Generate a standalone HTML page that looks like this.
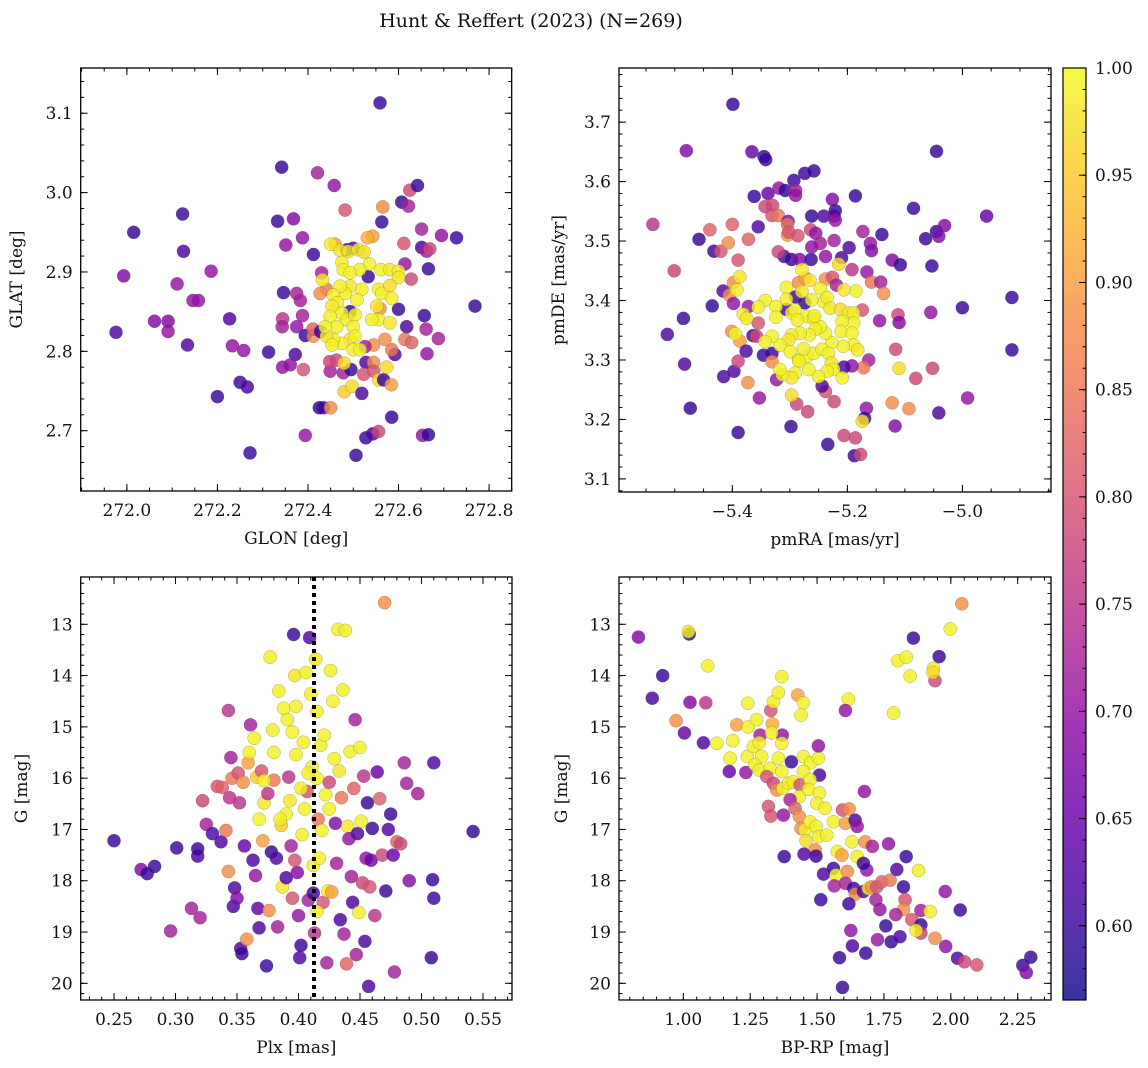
<!DOCTYPE html>
<html><head><meta charset="utf-8"><style>
html,body{margin:0;padding:0;background:#fff;}
svg{display:block;font-family:"DejaVu Serif","Liberation Serif",serif;}
</style></head><body>
<svg id="fig" width="1148" height="1068" viewBox="0 0 1148 1068" xmlns="http://www.w3.org/2000/svg">
<text x="531" y="27" font-size="19" text-anchor="middle" fill="#111">Hunt &amp; Reffert (2023) (N=269)</text>
</svg>
<script>
// ---- data: [x, y, membership probability] ----
const glonGlatStars = [
[271.976,2.824,.62],[271.993,2.895,.68],[272.015,2.950,.6],[272.061,2.838,.68],[272.091,2.838,.68],[272.091,2.825,.7],
[272.123,2.973,.6],[272.125,2.926,.62],[272.111,2.885,.7],[272.134,2.808,.62],[272.146,2.864,.7],[272.158,2.864,.7],
[272.186,2.901,.7],[272.200,2.743,.6],[272.227,2.841,.62],[272.233,2.807,.7],[272.258,2.801,.7],[272.250,2.761,.6],
[272.266,2.755,.62],[272.272,2.672,.6],[272.313,2.799,.6],[272.342,3.032,.6],[272.333,2.964,.6],[272.351,2.934,.7],
[272.368,2.967,.68],[272.346,2.874,.6],[272.344,2.841,.75],[272.343,2.831,.72],[272.375,2.873,.72],[272.375,2.831,.7],
[272.383,2.864,.72],[272.388,2.845,.72],[272.372,2.796,.62],[272.361,2.783,.7],[272.344,2.780,.7],[272.390,2.777,.8],
[272.388,2.943,.7],[272.394,2.694,.7],[272.394,2.820,.6],[272.412,2.922,.6],[272.421,3.025,.72],[272.412,2.819,.88],
[272.430,2.899,.72],[272.458,3.009,.7],[272.482,2.978,.8],[272.434,2.729,.62],[272.425,2.729,.6],[272.450,2.729,.88],
[272.449,2.775,.72],[272.448,2.787,.78],[272.463,2.789,.78],[272.478,2.773,.72],[272.495,2.777,.6],[272.480,2.749,.95],
[272.497,2.756,.97],[272.519,2.747,.62],[272.506,2.669,.6],[272.528,2.691,.6],[272.543,2.696,.62],[272.556,2.699,.78],
[272.559,3.113,.6],[272.563,2.963,.6],[272.565,2.982,.88],[272.585,2.717,.6],[272.607,2.988,.6],[272.622,2.983,.72],
[272.625,3.003,.78],[272.642,3.009,.6],[272.612,2.936,.8],[272.614,2.910,.7],[272.628,2.891,.78],[272.651,2.954,.72],
[272.651,2.931,.62],[272.662,2.926,.72],[272.669,2.929,.78],[272.666,2.904,.6],[272.695,2.946,.7],[272.728,2.943,.6],
[272.769,2.857,.6],[272.600,2.853,.6],[272.657,2.845,.6],[272.661,2.828,.72],[272.688,2.816,.72],[272.663,2.797,.7],
[272.618,2.831,.62],[272.614,2.815,.85],[272.629,2.811,.82],[272.592,2.796,.62],[272.585,2.802,.85],[272.570,2.815,.88],
[272.545,2.808,.88],[272.526,2.806,.72],[272.528,2.786,.62],[272.545,2.786,.88],[272.523,2.771,.8],[272.545,2.775,.8],
[272.556,2.764,.97],[272.567,2.764,.6],[272.584,2.758,.9],[272.574,2.780,.97],[272.653,2.694,.7],[272.666,2.695,.6],
[272.411,2.828,.82],[272.428,2.825,.6],[272.486,2.928,.6],[272.500,2.930,.62],[272.533,2.894,.6],[272.493,2.850,.6],
[272.543,2.945,.9],[272.531,2.943,.92],[272.460,2.935,.9],[272.559,2.854,.88],[272.441,2.878,.85],[272.427,2.873,.88],
[272.432,2.890,.98],[272.450,2.935,.99],[272.471,2.927,.98],[272.475,2.912,.99],[272.478,2.903,.99],[272.489,2.926,.98],
[272.511,2.928,.99],[272.524,2.925,.97],[272.536,2.910,.99],[272.561,2.903,.99],[272.581,2.903,.98],[272.600,2.901,.99],
[272.600,2.893,.98],[272.556,2.878,.99],[272.563,2.873,.99],[272.581,2.883,.97],[272.585,2.867,.99],[272.552,2.857,.98],
[272.556,2.840,.99],[272.581,2.836,.98],[272.541,2.840,.99],[272.519,2.878,.99],[272.508,2.865,.99],[272.493,2.882,.98],
[272.482,2.873,.99],[272.471,2.882,.99],[272.456,2.871,.99],[272.465,2.861,.99],[272.475,2.848,.99],[272.453,2.857,.98],
[272.449,2.844,.99],[272.464,2.831,.99],[272.486,2.840,.99],[272.504,2.846,.99],[272.500,2.831,.99],[272.493,2.815,.98],
[272.500,2.802,.99],[272.504,2.819,.99],[272.475,2.810,.99],[272.456,2.815,.99],[272.441,2.819,.98],[272.438,2.831,.99],
[272.453,2.808,.99],[272.514,2.903,.99],[272.493,2.899,.99],[272.480,2.785,.97],[272.515,2.802,.99]
];
const pmStars = [
[-5.399,3.730,.6],[-5.480,3.652,.68],[-5.538,3.528,.75],[-5.501,3.450,.78],[-5.458,3.503,.6],[-5.439,3.519,.82],
[-5.432,3.483,.6],[-5.420,3.483,.8],[-5.407,3.497,.88],[-5.400,3.528,.82],[-5.390,3.468,.8],[-5.372,3.503,.82],
[-5.366,3.650,.65],[-5.362,3.575,.6],[-5.355,3.524,.62],[-5.345,3.642,.6],[-5.342,3.637,.6],[-5.338,3.580,.65],
[-5.343,3.558,.78],[-5.330,3.560,.78],[-5.331,3.543,.8],[-5.320,3.543,.85],[-5.319,3.589,.7],[-5.308,3.585,.6],
[-5.303,3.533,.68],[-5.304,3.528,.85],[-5.304,3.510,.9],[-5.293,3.602,.6],[-5.290,3.585,.72],[-5.290,3.577,.7],
[-5.286,3.509,.8],[-5.274,3.614,.6],[-5.258,3.618,.6],[-5.262,3.542,.6],[-5.264,3.519,.78],[-5.255,3.513,.7],
[-5.247,3.496,.72],[-5.241,3.542,.62],[-5.226,3.570,.68],[-5.223,3.542,.68],[-5.221,3.551,.6],[-5.221,3.535,.7],
[-5.223,3.501,.72],[-5.186,3.576,.6],[-5.197,3.489,.62],[-5.173,3.516,.72],[-5.160,3.496,.7],[-5.158,3.484,.68],
[-5.140,3.511,.6],[-5.085,3.555,.6],[-5.064,3.504,.6],[-5.045,3.651,.6],[-5.045,3.516,.6],[-5.041,3.508,.68],
[-5.031,3.526,.68],[-4.958,3.542,.65],[-5.122,3.468,.68],[-5.108,3.460,.6],[-5.053,3.458,.6],[-5.192,3.452,.75],
[-5.166,3.448,.7],[-5.158,3.431,.85],[-5.142,3.431,.72],[-5.137,3.412,.88],[-5.174,3.384,.8],[-5.144,3.366,.7],
[-5.112,3.376,.78],[-5.110,3.363,.68],[-5.055,3.380,.7],[-5.000,3.388,.6],[-4.914,3.405,.6],[-4.914,3.317,.6],
[-5.116,3.318,.78],[-5.110,3.286,.97],[-5.081,3.269,.78],[-5.052,3.286,.78],[-4.991,3.236,.7],[-5.041,3.211,.62],
[-5.122,3.228,.88],[-5.093,3.218,.88],[-5.117,3.189,.68],[-5.163,3.300,.72],[-5.172,3.287,.85],[-5.192,3.290,.7],
[-5.206,3.288,.62],[-5.167,3.219,.7],[-5.170,3.202,.6],[-5.174,3.197,.97],[-5.206,3.173,.78],[-5.186,3.169,.78],
[-5.188,3.139,.6],[-5.177,3.141,.78],[-5.234,3.158,.6],[-5.223,3.230,.78],[-5.238,3.247,.8],[-5.244,3.256,.62],
[-5.269,3.213,.78],[-5.288,3.226,.78],[-5.297,3.241,.97],[-5.298,3.188,.6],[-5.323,3.267,.7],[-5.353,3.236,.7],
[-5.373,3.262,.88],[-5.390,3.178,.6],[-5.397,3.281,.62],[-5.390,3.298,.78],[-5.415,3.272,.62],[-5.473,3.219,.6],
[-5.483,3.293,.62],[-5.513,3.343,.62],[-5.485,3.370,.6],[-5.435,3.391,.6],[-5.416,3.416,.62],[-5.405,3.409,.88],
[-5.398,3.395,.7],[-5.372,3.390,.7],[-5.401,3.348,.88],[-5.387,3.332,.9],[-5.376,3.315,.62],[-5.355,3.362,.8],
[-5.364,3.341,.62],[-5.358,3.340,.78],[-5.346,3.308,.6],[-5.331,3.311,.6],[-5.331,3.297,.88],[-5.398,3.430,.88],
[-5.306,3.385,.62],[-5.290,3.406,.6],[-5.274,3.396,.6],[-5.285,3.430,.88],[-5.273,3.438,.9],[-5.238,3.436,.88],
[-5.226,3.439,.8],[-5.219,3.426,.72],[-5.210,3.472,.62],[-5.310,3.474,.62],[-5.297,3.469,.6],[-5.283,3.469,.68],
[-5.263,3.469,.6],[-5.238,3.474,.7],[-5.262,3.490,.7],[-5.320,3.482,.78],[-5.302,3.515,.8],
[-5.395,3.344,.99],[-5.387,3.440,.98],[-5.392,3.418,.99],[-5.279,3.452,.99],[-5.265,3.434,.98],[-5.215,3.461,.97],
[-5.185,3.416,.99],[-5.206,3.418,.98],[-5.247,3.420,.99],[-5.306,3.422,.99],[-5.306,3.402,.99],[-5.279,3.415,.98],
[-5.343,3.400,.99],[-5.355,3.389,.99],[-5.324,3.390,.99],[-5.381,3.377,.99],[-5.375,3.370,.98],[-5.324,3.372,.99],
[-5.297,3.379,.99],[-5.291,3.384,.99],[-5.270,3.373,.99],[-5.259,3.370,.98],[-5.241,3.398,.99],[-5.235,3.405,.99],
[-5.230,3.387,.98],[-5.212,3.385,.97],[-5.198,3.379,.98],[-5.189,3.379,.99],[-5.189,3.362,.99],[-5.209,3.365,.99],
[-5.211,3.348,.99],[-5.192,3.345,.99],[-5.189,3.325,.99],[-5.182,3.317,.98],[-5.207,3.323,.99],[-5.227,3.329,.99],
[-5.238,3.345,.99],[-5.247,3.356,.99],[-5.256,3.352,.99],[-5.266,3.342,.99],[-5.282,3.345,.99],[-5.297,3.342,.99],
[-5.302,3.334,.98],[-5.317,3.325,.99],[-5.331,3.340,.99],[-5.343,3.331,.99],[-5.299,3.314,.99],[-5.285,3.300,.99],
[-5.270,3.306,.99],[-5.259,3.311,.99],[-5.244,3.318,.99],[-5.233,3.311,.99],[-5.228,3.295,.98],[-5.224,3.284,.99],
[-5.209,3.270,.99],[-5.235,3.281,.99],[-5.250,3.272,.99],[-5.267,3.284,.99],[-5.284,3.298,.99],[-5.291,3.278,.99],
[-5.297,3.270,.98],[-5.313,3.275,.99],[-5.317,3.284,.99],[-5.257,3.374,.99],[-5.276,3.319,.99],[-5.287,3.367,.99],
[-5.262,3.401,.99]
];
const plxGStars = [
[0.250,17.22,.6],[0.272,17.78,.68],[0.277,17.86,.6],[0.283,17.72,.6],[0.296,18.98,.72],[0.301,17.36,.6],[0.313,18.54,.72],
[0.318,17.52,.62],[0.318,17.38,.6],[0.320,18.72,.72],[0.322,16.44,.78],[0.325,16.90,.72],[0.330,17.08,.62],[0.334,16.16,.8],
[0.337,17.24,.62],[0.338,16.18,.82],[0.341,17.02,.85],[0.343,14.68,.75],[0.343,17.82,.88],[0.344,16.38,.75],[0.345,15.60,.72],
[0.346,16.00,.85],[0.347,18.50,.62],[0.348,18.14,.62],[0.350,18.34,.68],[0.351,15.90,.8],[0.352,16.48,.75],[0.353,19.32,.62],
[0.354,19.42,.6],[0.355,16.08,.88],[0.356,17.32,.65],[0.358,19.14,.88],[0.359,15.70,.9],[0.361,14.96,.72],[0.363,17.60,.62],
[0.364,15.22,.99],[0.366,15.98,.95],[0.367,18.54,.65],[0.368,18.92,.62],[0.370,15.86,.8],[0.371,17.22,.9],[0.372,16.48,.98],
[0.374,19.66,.6],[0.375,16.30,.75],[0.376,18.58,.88],[0.377,13.64,.99],[0.378,17.44,.6],[0.379,15.06,.99],[0.380,16.04,.85],
[0.382,17.56,.62],[0.383,18.90,.72],[0.384,14.30,.99],[0.386,16.92,.95],[0.387,18.12,.98],[0.388,14.64,.99],[0.390,17.94,.62],
[0.391,14.86,.99],[0.392,15.98,.75],[0.393,16.44,.98],[0.394,17.32,.72],[0.395,18.34,.8],[0.396,13.20,.6],[0.397,14.00,.98],
[0.398,15.54,.99],[0.399,17.84,.68],[0.400,18.68,.7],[0.401,19.50,.62],[0.402,19.26,.6],[0.403,17.10,.99],[0.404,15.30,.99],
[0.405,16.60,.99],[0.406,13.94,.99],[0.407,16.26,.8],[0.408,18.38,.72],[0.409,13.26,.62],[0.410,14.36,.99],[0.411,15.78,.99],
[0.412,17.70,.99],[0.412,18.24,.6],[0.413,19.02,.75],[0.414,13.68,.98],[0.415,14.70,.99],[0.416,16.80,.85],[0.417,17.56,.99],
[0.418,15.36,.99],[0.419,17.02,.99],[0.420,18.42,.8],[0.421,15.16,.99],[0.422,16.32,.99],[0.423,19.60,.72],[0.424,18.20,.99],
[0.425,16.08,.78],[0.426,13.90,.99],[0.427,18.22,.9],[0.428,14.50,.99],[0.429,15.62,.99],[0.430,16.88,.68],[0.431,17.66,.72],
[0.432,13.10,.99],[0.433,15.86,.98],[0.434,18.76,.62],[0.435,16.38,.85],[0.436,14.28,.99],[0.437,19.04,.72],[0.438,13.12,.99],
[0.439,19.62,.82],[0.440,16.94,.98],[0.441,17.18,.7],[0.442,15.48,.99],[0.443,17.92,.72],[0.444,18.42,.62],[0.445,16.20,.82],
[0.446,14.86,.72],[0.447,19.44,.72],[0.448,17.08,.62],[0.449,18.62,.99],[0.450,15.40,.99],[0.451,16.84,.99],[0.452,18.04,.78],
[0.453,15.96,.75],[0.454,19.18,.62],[0.455,17.56,.7],[0.456,16.48,.6],[0.457,20.06,.62],[0.458,18.12,.8],[0.459,17.60,.65],
[0.460,16.98,.6],[0.462,18.68,.75],[0.464,15.88,.65],[0.466,16.40,.82],[0.468,17.50,.78],[0.470,12.58,.88],[0.471,18.20,.6],
[0.473,17.00,.62],[0.475,16.70,.6],[0.477,17.50,.65],[0.478,19.78,.72],[0.480,17.24,.82],[0.483,17.28,.78],[0.486,15.70,.72],
[0.488,16.10,.72],[0.490,18.00,.68],[0.497,16.30,.72],[0.508,19.50,.6],[0.509,17.98,.6],[0.510,18.34,.6],[0.510,15.70,.62],
[0.542,17.04,.6],[0.372,16.05,.99],[0.380,15.50,.99],[0.395,15.10,.99],[0.402,16.20,.99],[0.390,16.70,.99],[0.385,16.80,.99],
[0.397,17.60,.8],[0.415,16.00,.99],[0.425,16.60,.99],[0.408,15.90,.99],[0.398,14.60,.99],[0.360,15.50,.99],[0.368,16.80,.99],
[0.415,18.60,.99],[0.365,17.90,.7]
];
const cmdStars = [
[0.832,13.25,.68],[0.884,14.44,.62],[0.923,14.00,.6],[0.973,14.88,.88],[1.004,15.12,.65],[1.022,13.19,.6],[1.019,13.14,.99],
[1.025,14.52,.68],[1.084,14.53,.75],[1.091,13.81,.99],[1.075,15.31,.62],[1.125,15.32,.99],[1.172,15.87,.65],[1.175,15.61,.99],
[1.185,15.27,.99],[1.200,14.96,.9],[1.241,14.54,.99],[1.234,15.89,.7],[1.243,15.00,.99],[1.274,14.86,.99],[1.239,15.58,.99],
[1.287,15.16,.72],[1.327,14.68,.8],[1.337,14.51,.99],[1.355,14.33,.99],[1.368,14.02,.99],[1.428,14.38,.9],[1.449,14.53,.99],
[1.440,14.77,.99],[1.370,15.16,.7],[1.333,14.94,.92],[1.330,15.12,.99],[1.368,15.32,.99],[1.404,15.68,.6],[1.449,15.58,.99],
[1.476,15.70,.99],[1.505,15.61,.99],[1.505,15.37,.7],[1.509,15.94,.62],[1.617,14.46,.99],[1.606,14.68,.7],[1.677,16.26,.7],
[1.786,14.73,.99],[1.802,13.71,.99],[1.833,13.64,.99],[1.848,14.01,.99],[1.860,13.27,.6],[1.956,13.63,.6],[1.941,14.10,.78],
[1.935,13.86,.99],[1.933,13.94,.97],[1.998,13.09,.99],[2.041,12.60,.88],
[1.262,15.38,.99],[1.284,15.31,.99],[1.293,15.58,.99],[1.268,15.74,.99],[1.284,15.84,.99],[1.324,15.81,.99],[1.312,15.97,.8],
[1.355,15.61,.99],[1.368,15.87,.99],[1.337,16.10,.78],[1.349,16.23,.88],[1.372,16.20,.99],[1.393,16.10,.99],[1.411,16.07,.99],
[1.436,16.13,.8],[1.434,16.36,.99],[1.449,15.87,.99],[1.474,16.03,.99],[1.468,16.22,.99],[1.509,16.29,.99],[1.499,16.49,.99],
[1.530,16.59,.99],[1.318,16.55,.8],[1.327,16.74,.8],[1.374,16.72,.7],[1.399,16.42,.72],[1.418,16.59,.82],[1.434,16.75,.88],
[1.440,16.98,.88],[1.455,17.01,.99],[1.474,16.85,.99],[1.496,16.94,.99],[1.505,17.14,.99],[1.459,17.22,.97],[1.493,17.40,.88],
[1.536,17.11,.99],[1.561,16.85,.99],[1.595,16.62,.8],[1.620,16.60,.88],[1.606,16.88,.9],[1.642,16.82,.62],[1.650,16.94,.7],
[1.630,17.24,.99],[1.679,17.24,.88],[1.707,17.33,.72],[1.767,17.28,.7],[1.576,17.43,.99],[1.593,17.50,.9],[1.650,17.53,.99],
[1.451,17.48,.62],[1.496,17.52,.6],[1.377,17.53,.6],[1.524,17.87,.62],[1.561,17.76,.6],[1.571,17.89,.99],[1.613,17.82,.88],
[1.606,18.05,.72],[1.637,18.15,.6],[1.643,18.26,.88],[1.673,18.21,.62],[1.692,18.15,.99],[1.686,17.79,.7],[1.704,18.12,.88],
[1.723,18.12,.8],[1.742,18.02,.82],[1.773,17.99,.85],[1.798,17.78,.62],[1.833,17.53,.6],[1.879,17.80,.99],[1.823,18.12,.6],
[1.720,18.37,.72],[1.735,18.56,.7],[1.829,18.37,.8],[1.823,18.56,.88],[1.794,18.66,.72],[1.854,18.76,.8],[1.888,18.58,.72],
[1.923,18.60,.99],[1.888,18.86,.6],[1.888,19.02,.78],[1.870,18.97,.99],[1.979,18.21,.7],[2.035,18.57,.6],[1.941,19.12,.88],
[1.981,19.28,.7],[2.025,19.51,.62],[2.051,19.58,.78],[2.097,19.64,.8],[2.269,19.65,.6],[2.282,19.79,.68],[2.299,19.49,.6],
[1.757,18.88,.6],[1.777,19.19,.6],[1.810,19.09,.62],[1.726,19.15,.7],[1.682,19.41,.6],[1.632,19.27,.62],[1.626,18.97,.7],
[1.584,19.50,.6],[1.595,20.08,.6],[1.619,18.45,.6],[1.514,18.37,.6],[1.564,18.10,.72],[1.673,17.66,.6]
];
const plxReference = 0.4126;
const colorTicks = [0.60,0.65,0.70,0.75,0.80,0.85,0.90,0.95,1.00];
const colorRange = [0.5654, 1.0];

const plasma = [[13,8,135],[65,4,157],[106,0,168],[143,13,164],[177,42,144],[204,71,120],[225,100,98],[242,132,75],[252,166,54],[252,206,37],[240,249,33]];
function cmap(t){t=Math.max(0,Math.min(1,t));const f=t*10,i=Math.min(9,Math.floor(f)),r=f-i,a=plasma[i],b=plasma[i+1];
 return 'rgb('+[0,1,2].map(k=>Math.round(a[k]+(b[k]-a[k])*r)).join(',')+')';}
function pcol(p){return cmap((p-colorRange[0])/(colorRange[1]-colorRange[0]));}

const NS='http://www.w3.org/2000/svg';
const svg=document.getElementById('fig');
function mk(tag,attrs,parent){const e=document.createElementNS(NS,tag);for(const k in attrs)e.setAttribute(k,attrs[k]);(parent||svg).appendChild(e);return e;}
function fmtMinus(s){return s.replace('-','\u2212');}

function panel(cfg){
 const g=mk('g',{});
 
 
 const [L,T,R,B]=cfg.box;
 const sx=v=>L+(v-cfg.xd[0])/(cfg.xd[1]-cfg.xd[0])*(R-L);
 const sy=cfg.inv? (v=>T+(v-cfg.yd[0])/(cfg.yd[1]-cfg.yd[0])*(B-T)) : (v=>B-(v-cfg.yd[0])/(cfg.yd[1]-cfg.yd[0])*(B-T));
 const clip='clip-'+cfg.name;
 const cp=mk('clipPath',{id:clip},g);mk('rect',{x:L,y:T,width:R-L,height:B-T},cp);
 const pts=mk('g',{'clip-path':'url(#'+clip+')'},g);
 
 
 cfg.data.forEach(d=>{
  const c=mk('circle',{cx:sx(d[0]).toFixed(1),cy:sy(d[1]).toFixed(1),r:6.6,fill:pcol(d[2]),'fill-opacity':0.82,stroke:'#555','stroke-opacity':0.45,'stroke-width':0.5},pts);
  
  
 });
 if(cfg.vline!==undefined){
  const l=mk('line',{x1:sx(cfg.vline),x2:sx(cfg.vline),y1:T,y2:B,stroke:'#000','stroke-width':4,'stroke-dasharray':'4,4'},g);
  
  
 }
 const tg=mk('g',{stroke:'#000','stroke-width':1},g);
 const eps=1e-9;
 function range(a,b,s){const out=[];const st=Math.ceil((a-eps)/s);for(let i=st;i*s<=b+eps;i++)out.push(+(i*s).toFixed(6));return out;}
 range(cfg.xd[0],cfg.xd[1],cfg.xminor).forEach(v=>{const x=sx(v);mk('line',{x1:x,x2:x,y1:B,y2:B-3.5},tg);mk('line',{x1:x,x2:x,y1:T,y2:T+3.5},tg);});
 range(Math.min(...cfg.yd),Math.max(...cfg.yd),cfg.yminor).forEach(v=>{const y=sy(v);mk('line',{x1:L,x2:L+3.5,y1:y,y2:y},tg);mk('line',{x1:R,x2:R-3.5,y1:y,y2:y},tg);});
 range(cfg.xd[0],cfg.xd[1],cfg.xmajor).forEach(v=>{const x=sx(v);mk('line',{x1:x,x2:x,y1:B,y2:B-7},tg);mk('line',{x1:x,x2:x,y1:T,y2:T+7},tg);
  const t=mk('text',{x:x,y:B+25,'font-size':17,'text-anchor':'middle',fill:'#111'},g);t.textContent=fmtMinus(v.toFixed(cfg.xdec));
  
  });
 range(Math.min(...cfg.yd),Math.max(...cfg.yd),cfg.ymajor).forEach(v=>{const y=sy(v);mk('line',{x1:L,x2:L+7,y1:y,y2:y},tg);mk('line',{x1:R,x2:R-7,y1:y,y2:y},tg);
  const t=mk('text',{x:L-8,y:y+6,'font-size':17,'text-anchor':'end',fill:'#111'},g);t.textContent=v.toFixed(cfg.ydec);
  
  });
 const fr=mk('rect',{x:L,y:T,width:R-L,height:B-T,fill:'none',stroke:'#000','stroke-width':1.3},g);
 
 
 const xl=mk('text',{x:(L+R)/2,y:B+53,'font-size':17,'text-anchor':'middle',fill:'#111'},g);xl.textContent=cfg.xlabel;
 
 
 const yx=cfg.ylabx, yc=(T+B)/2;
 const yl=mk('text',{x:yx,y:yc,'font-size':17,'text-anchor':'middle',fill:'#111',transform:'rotate(-90 '+yx+' '+yc+')'},g);yl.textContent=cfg.ylabel;
 
 
}

panel({name:'glon-glat-panel',box:[80.7,68,511.7,491],xd:[271.898,272.850],yd:[2.624,3.157],xmajor:0.2,xminor:0.05,ymajor:0.1,yminor:0.02,xdec:1,ydec:1,data:glonGlatStars,xlabel:'GLON [deg]',ylabel:'GLAT [deg]',ylabx:22});
panel({name:'proper-motion-panel',box:[619,68,1051,492],xd:[-5.597,-4.846],yd:[3.078,3.791],xmajor:0.2,xminor:0.05,ymajor:0.1,yminor:0.02,xdec:1,ydec:1,data:pmStars,xlabel:'pmRA [mas/yr]',ylabel:'pmDE [mas/yr]',ylabx:564});
panel({name:'parallax-mag-panel',box:[80.7,577,512,1000],xd:[0.2229,0.5736],yd:[12.078,20.325],inv:true,xmajor:0.05,xminor:0.01,ymajor:1,yminor:0.2,xdec:2,ydec:0,data:plxGStars,xlabel:'Plx [mas]',ylabel:'G [mag]',ylabx:27,vline:plxReference});
panel({name:'color-magnitude-panel',box:[619,577,1051,1000],xd:[0.7595,2.3745],yd:[12.078,20.325],inv:true,xmajor:0.25,xminor:0.05,ymajor:1,yminor:0.2,xdec:2,ydec:0,data:cmdStars,xlabel:'BP-RP [mag]',ylabel:'G [mag]',ylabx:567});

(function(){
 const L=1063,R=1086,T=68,B=1000;
 const g=mk('g',{});
 
 
 const defs=mk('defs',{},g);
 const lg=mk('linearGradient',{id:'cbgrad',x1:0,y1:1,x2:0,y2:0},defs);
 for(let i=0;i<=20;i++){mk('stop',{offset:i/20,'stop-color':cmap(i/20)},lg);}
 mk('rect',{x:L,y:T,width:R-L,height:B-T,fill:'url(#cbgrad)','fill-opacity':0.82},g);
 mk('rect',{x:L,y:T,width:R-L,height:B-T,fill:'none',stroke:'#000','stroke-width':1.2},g);
 const sy=v=>B-(v-colorRange[0])/(colorRange[1]-colorRange[0])*(B-T);
 for(let v=0.57;v<=1.0001;v+=0.01){const y=sy(v);mk('line',{x1:R,x2:R-3.5,y1:y,y2:y,stroke:'#000','stroke-width':1},g);}
 colorTicks.forEach(v=>{const y=sy(v);mk('line',{x1:R,x2:R-7,y1:y,y2:y,stroke:'#000','stroke-width':1},g);
  const t=mk('text',{x:R+9,y:y+6,'font-size':17,fill:'#111'},g);t.textContent=v.toFixed(2);
  
  });
})();
</script>
</body></html>
